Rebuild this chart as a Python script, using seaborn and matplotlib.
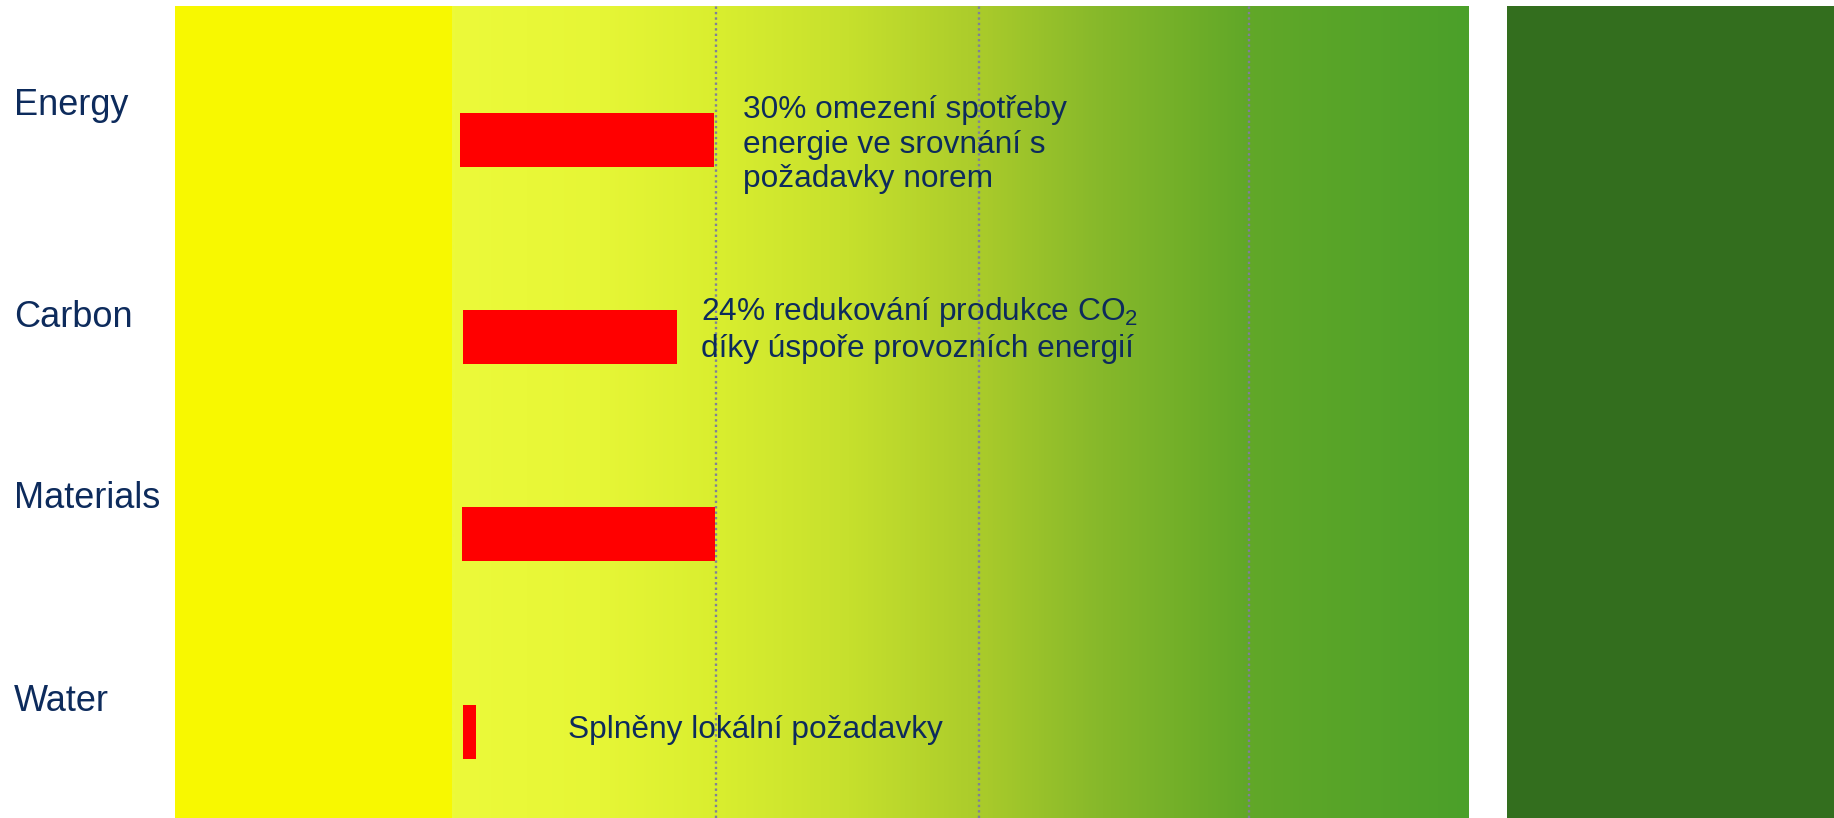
import numpy as np
import matplotlib
matplotlib.use("Agg")
import matplotlib.pyplot as plt
from matplotlib.colors import LinearSegmentedColormap
from matplotlib import transforms
import seaborn as sns

# categories and red bars (scale in %, 0 = start of the gradient zone)
categories = ["Energy", "Carbon", "Materials", "Water"]
bar_start = [0.8, 1.0, 0.9, 1.0]
bar_end = [24.8, 21.3, 24.9, 2.3]

# notes printed next to the bars
notes = [
    "30% omezení spotřeby\nenergie ve srovnání s\npožadavky norem",
    "24% redukování produkce CO$_\\mathregular{2}$\ndíky úspoře provozních energií",
    "",
    "Splněny lokální požadavky",
]

# background zones and dotted guides on the same scale
gradient_zone = [0, 96.4]
top_zone_start = 100
guides = [25, 50, 75.5]

# layout (note_y = baseline of the last line of each note)
note_x = [27.6, 23.6, 0, 11.0]
note_y = [0.238, 1.098, 0, 3.032]
label_y = [-0.127, 0.948, 1.866, 2.895]
xlim = (-26.26, 131.0)
ylim = (3.438, -0.68)
navy = "#0D2B5C"

sns.set_theme(style="white")
plt.rcParams["font.family"] = ["Liberation Sans", "DejaVu Sans"]

fig = plt.figure(figsize=(18.34, 8.18), dpi=100)
ax = fig.add_axes([175 / 1834, 0, 1 - 175 / 1834, 812 / 818])

# red bars
sns.barplot(x=bar_end, y=categories, orient="h", color="#FF0000",
            saturation=1, width=0.274, ax=ax, zorder=3,
            edgecolor="none", linewidth=0)
for p, s, e in zip(ax.patches[:len(categories)], bar_start, bar_end):
    p.set_x(s)
    p.set_width(e - s)

# background: yellow block, gradient, dark green block
ax.axvspan(xlim[0], gradient_zone[0], color="#F8F800", lw=0, zorder=0)
grad = LinearSegmentedColormap.from_list("zone", [
    (0.0, "#ECFA3A"), (0.145, "#E6F636"), (0.26, "#D9EE2F"),
    (0.39, "#C6E02D"), (0.52, "#AACB2B"), (0.64, "#86B82A"),
    (0.78, "#62A828"), (1.0, "#4BA02A")])
ax.imshow(np.linspace(0, 1, 512)[None, :], cmap=grad, aspect="auto",
          interpolation="bilinear",
          extent=[gradient_zone[0], gradient_zone[1], ylim[0], ylim[1]], zorder=0)
ax.axvspan(top_zone_start, xlim[1], color="#336E1E", lw=0, zorder=0)

for g in guides:
    ax.axvline(g, color="#80809A", ls=(0, (1, 1.3)), lw=1.7, zorder=1)

ax.set_xlim(*xlim)
ax.set_ylim(*ylim)
ax.set_xticks([])
ax.set_yticks([])
ax.set_xlabel("")
ax.set_ylabel("")
for s in ax.spines.values():
    s.set_visible(False)

# category labels at the left edge of the figure
lab_tr = transforms.blended_transform_factory(fig.transFigure, ax.transData)
for cat, ly in zip(categories, label_y):
    ax.text(14 / 1834, ly, cat, transform=lab_tr, fontsize=26, color=navy,
            ha="left", va="baseline")

for txt, nx, ny in zip(notes, note_x, note_y):
    if txt:
        ax.text(nx, ny, txt, fontsize=22.8, color=navy, ha="left",
                va="baseline", linespacing=1.19, zorder=4)

fig.savefig("out.png", dpi=100)
